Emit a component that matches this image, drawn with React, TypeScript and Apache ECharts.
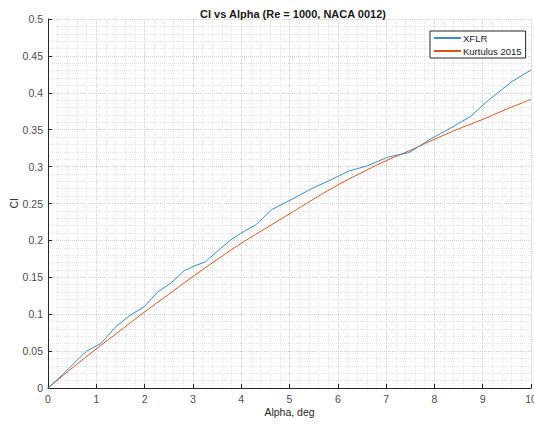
import React, { useEffect, useRef } from "react";
import * as echarts from "echarts";

// XFLR polar (angle of attack in degrees, lift coefficient)
const xflrAlpha = [0, 0.3, 0.61, 0.8, 1.1, 1.4, 1.71, 1.99, 2.27, 2.54, 2.82, 3.02, 3.26, 3.57, 3.78, 3.99, 4.3, 4.64, 5.02, 5.47, 5.85, 6.23, 6.6, 7.02, 7.23, 7.47, 7.91, 8.33, 8.74, 9.12, 9.6, 10];
const xflrCl = [0, 0.018, 0.038, 0.05, 0.0605, 0.083, 0.099, 0.11, 0.13, 0.142, 0.159, 0.165, 0.171, 0.189, 0.2005, 0.2096, 0.221, 0.242, 0.2547, 0.2705, 0.2818, 0.294, 0.3008, 0.3125, 0.3157, 0.3188, 0.337, 0.352, 0.3676, 0.39, 0.415, 0.431];

// Kurtulus 2015 reference curve
const kurtAlpha = [0, 0.5, 1, 1.5, 2, 2.5, 3, 3.5, 4, 4.5, 5, 5.5, 6, 6.5, 7, 7.5, 8, 8.5, 9, 9.5, 10];
const kurtCl = [0, 0.027, 0.053, 0.078, 0.103, 0.127, 0.151, 0.174, 0.196, 0.216, 0.236, 0.256, 0.275, 0.292, 0.308, 0.322, 0.337, 0.351, 0.364, 0.378, 0.391];

const seriesNames = ["XFLR", "Kurtulus 2015"];
const titleText = "Cl vs Alpha (Re = 1000, NACA 0012)";
const xLabel = "Alpha, deg";
const yLabel = "Cl";

const FONT = "'Liberation Sans', Arial, sans-serif";
const AXIS_COLOR = "#262626";
const LABEL_COLOR = "#4d4d4d";

export default function App() {
  const ref = useRef<HTMLDivElement>(null);

  useEffect(() => {
    if (!ref.current) return;
    const chart = echarts.init(ref.current, undefined, { renderer: "svg" });

    const axisCommon = {
      axisLine: { show: true, lineStyle: { color: AXIS_COLOR, width: 1 } },
      axisTick: { show: true, inside: true, length: 4, lineStyle: { color: AXIS_COLOR } },
      axisLabel: { color: LABEL_COLOR, fontSize: 10.5, fontFamily: FONT },
      splitLine: { show: true, lineStyle: { color: "#d0d0d0", type: "dotted", width: 1 } },
      minorTick: { show: false, splitNumber: 5 },
      minorSplitLine: { show: true, lineStyle: { color: "#e4e4e4", type: "dotted", width: 1 } },
      nameLocation: "middle" as const,
      nameMoveOverlap: false,
      nameTextStyle: { color: AXIS_COLOR, fontSize: 10.5, fontFamily: FONT },
    };

    chart.setOption({
      animation: false,
      backgroundColor: "#ffffff",
      title: {
        text: titleText,
        left: 288,
        top: 3,
        textAlign: "center",
        textStyle: { fontSize: 11, fontWeight: "bold", color: "#1a1a1a", fontFamily: FONT },
      },
      grid: { left: 48, right: 3, top: 19, bottom: 38, containLabel: false, outerBoundsMode: "none" },
      legend: {
        data: seriesNames,
        orient: "vertical",
        left: 430,
        top: 31,
        itemWidth: 27,
        itemHeight: 9,
        itemGap: 3,
        padding: [2, 4, 2, 3],
        borderColor: AXIS_COLOR,
        borderWidth: 1,
        borderRadius: 0,
        backgroundColor: "#ffffff",
        itemStyle: { opacity: 0 },
        textStyle: { fontSize: 9.5, color: "#1a1a1a", fontFamily: FONT, padding: [0, 0, 0, -3] },
      },
      xAxis: {
        ...axisCommon,
        type: "value",
        min: 0,
        max: 10,
        interval: 1,
        name: xLabel,
        nameGap: 18,
        axisLabel: { ...axisCommon.axisLabel, margin: 5 },
      },
      yAxis: {
        ...axisCommon,
        type: "value",
        min: 0,
        max: 0.5,
        interval: 0.05,
        name: yLabel,
        nameGap: 29,
        axisLabel: { ...axisCommon.axisLabel, margin: 5 },
      },
      series: [
        {
          name: seriesNames[0],
          type: "line",
          symbol: "none",
          lineStyle: { color: "#3a8cc4", width: 1 },
          itemStyle: { color: "#3a8cc4" },
          data: xflrAlpha.map((a, i) => [a, xflrCl[i]]),
          z: 3,
        },
        {
          name: seriesNames[1],
          type: "line",
          symbol: "none",
          smooth: true,
          lineStyle: { color: "#D95319", width: 1 },
          itemStyle: { color: "#D95319" },
          data: kurtAlpha.map((a, i) => [a, kurtCl[i]]),
          z: 2,
        },
      ],
    });

    return () => chart.dispose();
  }, []);

  return (
    <div
      ref={ref}
      style={{ position: "absolute", left: 0, top: 0, width: 534, height: 426 }}
    />
  );
}
